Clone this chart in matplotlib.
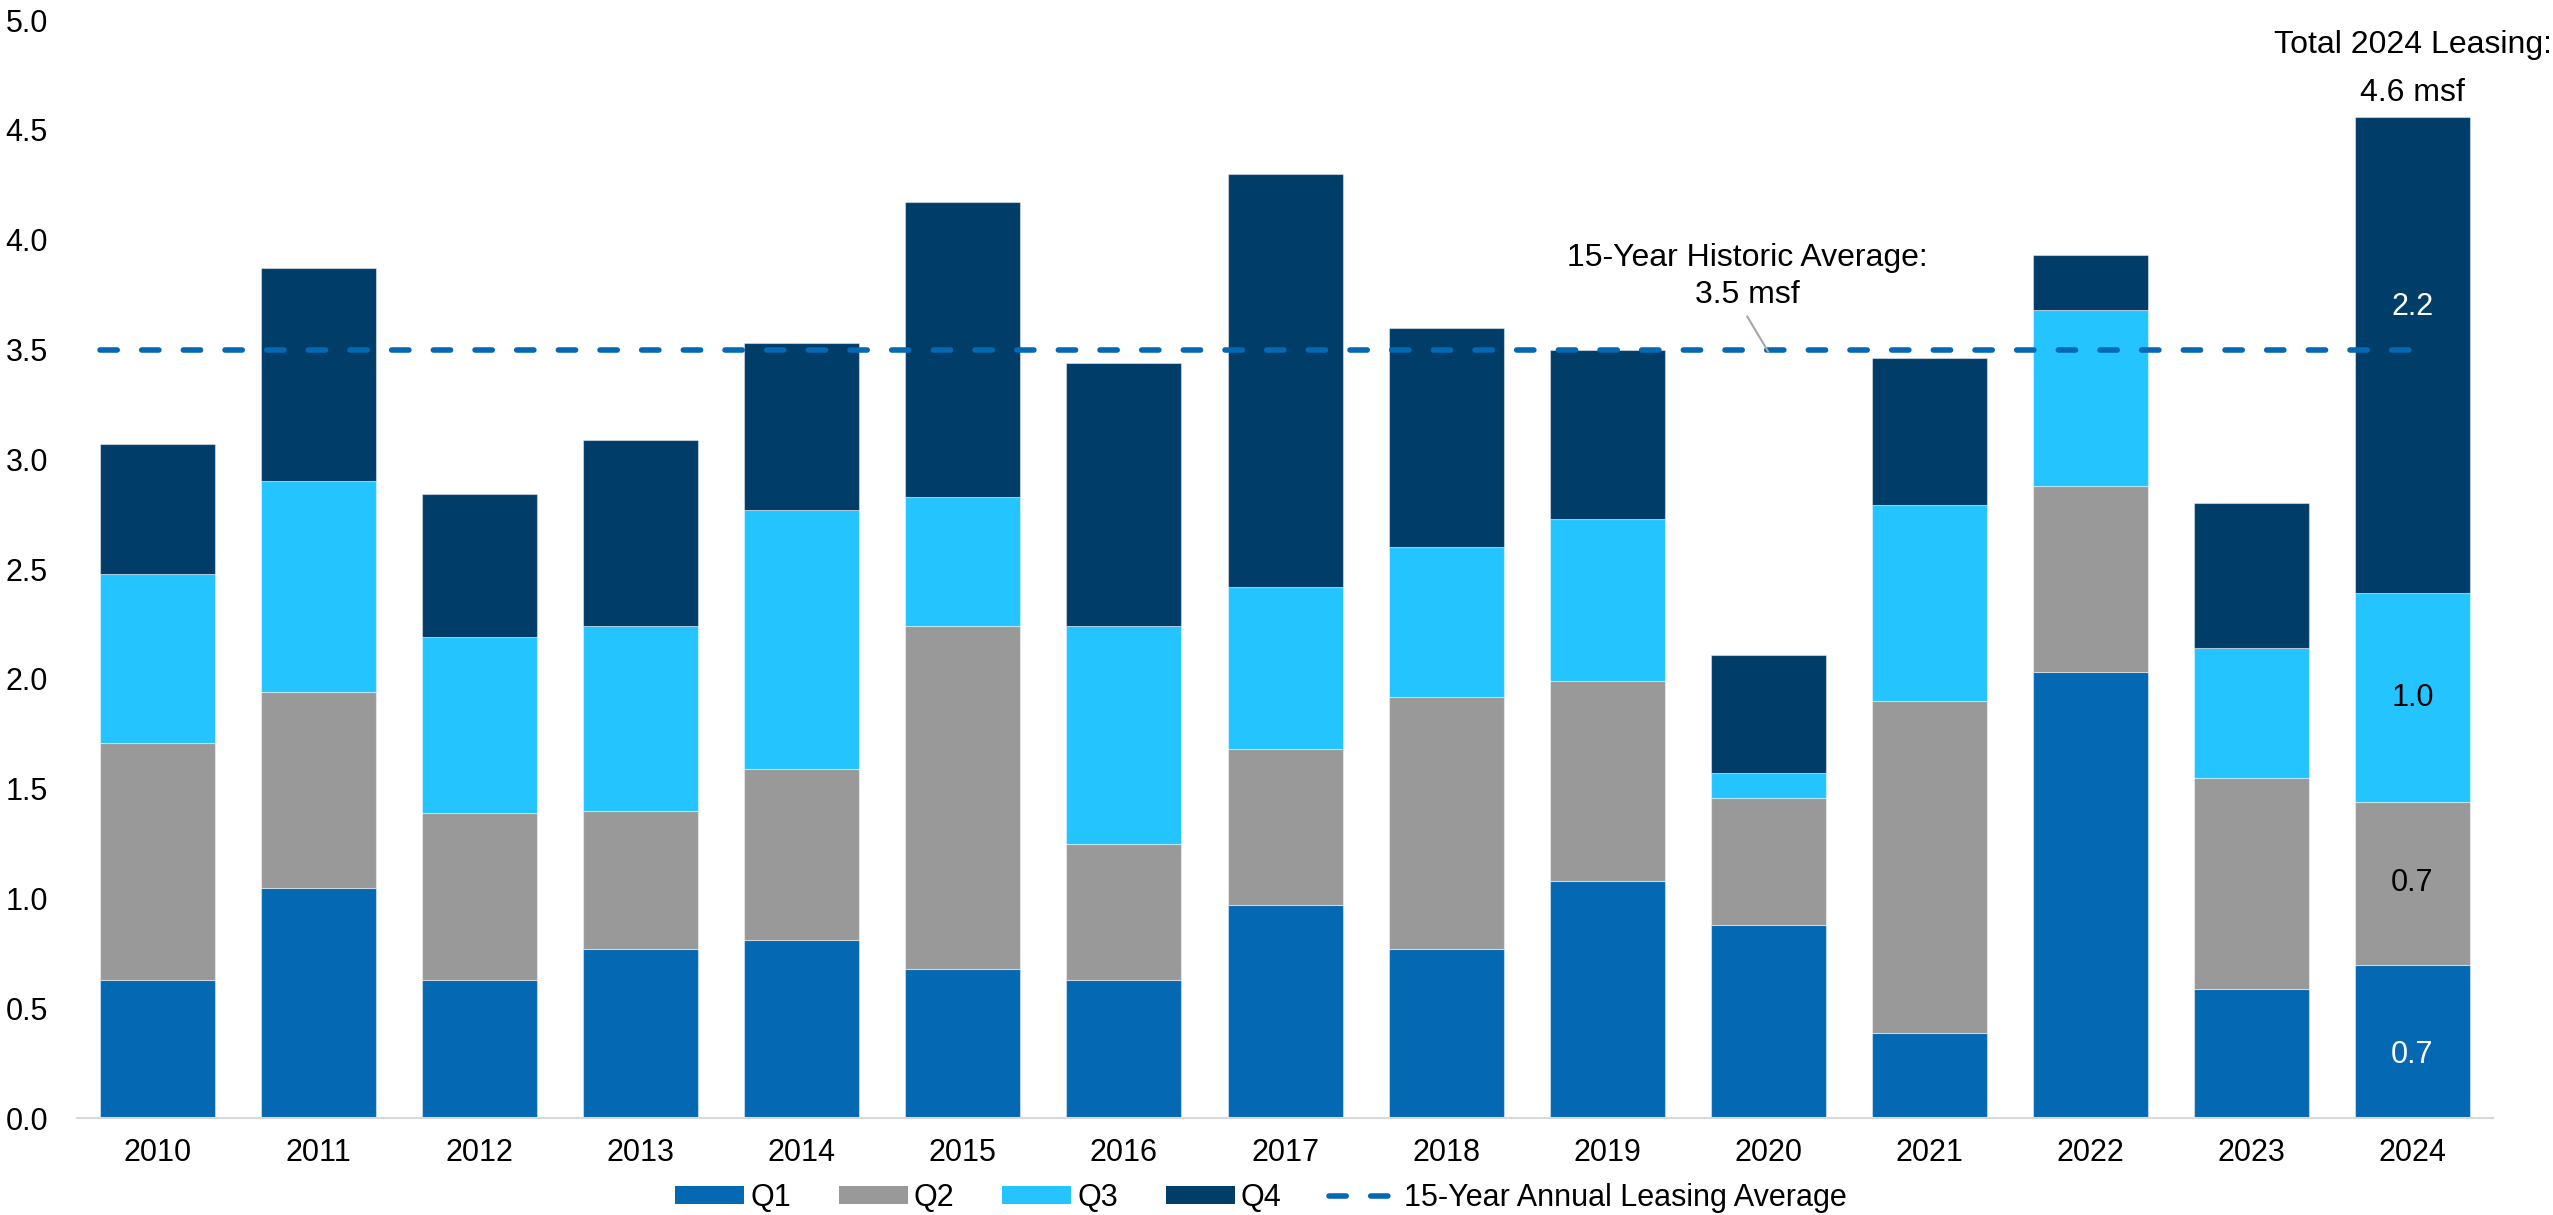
import matplotlib
matplotlib.use("Agg")
import matplotlib.pyplot as plt
import numpy as np
from matplotlib.lines import Line2D
from matplotlib.patches import Patch

plt.rcParams['font.family'] = ['Liberation Sans', 'DejaVu Sans']

# Quarterly leasing volume (msf) by year
years = ['2010', '2011', '2012', '2013', '2014', '2015', '2016', '2017',
         '2018', '2019', '2020', '2021', '2022', '2023', '2024']
q1 = [0.63, 1.05, 0.63, 0.77, 0.81, 0.68, 0.63, 0.97, 0.77, 1.08, 0.88, 0.39, 2.03, 0.59, 0.70]
q2 = [1.08, 0.89, 0.76, 0.63, 0.78, 1.56, 0.62, 0.71, 1.15, 0.91, 0.58, 1.51, 0.85, 0.96, 0.74]
q3 = [0.77, 0.96, 0.80, 0.84, 1.18, 0.59, 0.99, 0.74, 0.68, 0.74, 0.11, 0.89, 0.80, 0.59, 0.95]
q4 = [0.59, 0.97, 0.65, 0.85, 0.76, 1.34, 1.20, 1.88, 1.00, 0.77, 0.54, 0.67, 0.25, 0.66, 2.17]
quarter_names = ['Q1', 'Q2', 'Q3', 'Q4']
annual_average = 3.5
total_2024 = 4.6
labels_2024 = ['0.7', '0.7', '1.0', '2.2']

colors = ['#0468B2', '#999999', '#23C4FF', '#003D69']
avg_color = '#0468B2'

fig = plt.figure(figsize=(25.53, 12.15), dpi=100)
ax = fig.add_axes([0.0302, 0.0796, 0.9463, 0.9039])

x = np.arange(len(years))
series = [q1, q2, q3, q4]
bottom = np.zeros(len(years))
bottoms = []
for vals, c in zip(series, colors):
    vals = np.array(vals)
    ax.bar(x, vals, width=0.714, bottom=bottom, color=c,
           edgecolor=(1, 1, 1, 0.45), linewidth=0.8, zorder=2)
    bottoms.append(bottom.copy())
    bottom = bottom + vals

# Value labels on the 2024 stack
label_colors = ['white', 'black', 'black', 'white']
label_frac = [0.41, 0.5, 0.5, 0.60]
last = len(years) - 1
for i in range(4):
    b = bottoms[i][last]
    h = series[i][last]
    ax.text(x[last], b + h * label_frac[i], labels_2024[i], ha='center', va='center',
            fontsize=22, color=label_colors[i], zorder=4)

# 15-year average line
avg_line, = ax.plot([-0.357, 14.0], [annual_average, annual_average], color=avg_color,
                    linewidth=4, zorder=3, dash_capstyle='round')
avg_line.set_dashes((3.1, 4.4))

ax.text(9.87, 3.915, '15-Year Historic Average:', ha='center', va='center', fontsize=23)
ax.text(9.87, 3.75, '%.1f msf' % annual_average, ha='center', va='center', fontsize=23)
ax.plot([9.87, 10.0], [3.65, 3.49], color='#a6a6a6', linewidth=1.5, zorder=3)

ax.text(14, 4.885, 'Total 2024 Leasing:', ha='center', va='center', fontsize=23)
ax.text(14, 4.67, '%.1f msf' % total_2024, ha='center', va='center', fontsize=23)

ax.set_xlim(-0.5, 14.5)
ax.set_ylim(0, 5.0)
ax.set_xticks(x)
ax.set_xticklabels(years, fontsize=22)
ax.set_yticks(np.arange(0, 5.01, 0.5))
ax.set_yticklabels(['%.1f' % v for v in np.arange(0, 5.01, 0.5)], fontsize=22)
ax.tick_params(axis='both', length=0)
ax.tick_params(axis='x', pad=14)
ax.tick_params(axis='y', pad=21)
for s in ['top', 'right', 'left']:
    ax.spines[s].set_visible(False)
ax.spines['bottom'].set_color('#d9d9d9')
ax.spines['bottom'].set_linewidth(1.5)

handles = [Patch(facecolor=c, edgecolor='none') for c in colors]
leg_line = Line2D([], [], color=avg_color, linewidth=4, dash_capstyle='round')
leg_line.set_dashes((3.1, 4.4))
handles.append(leg_line)
fig.legend(handles, quarter_names + ['15-Year Annual Leasing Average'],
           loc='center', bbox_to_anchor=(0.494, 0.014), ncol=5, frameon=False,
           fontsize=22, handlelength=2.25, handleheight=0.55, handletextpad=0.2,
           columnspacing=1.57)

fig.savefig('out.png', dpi=100)
